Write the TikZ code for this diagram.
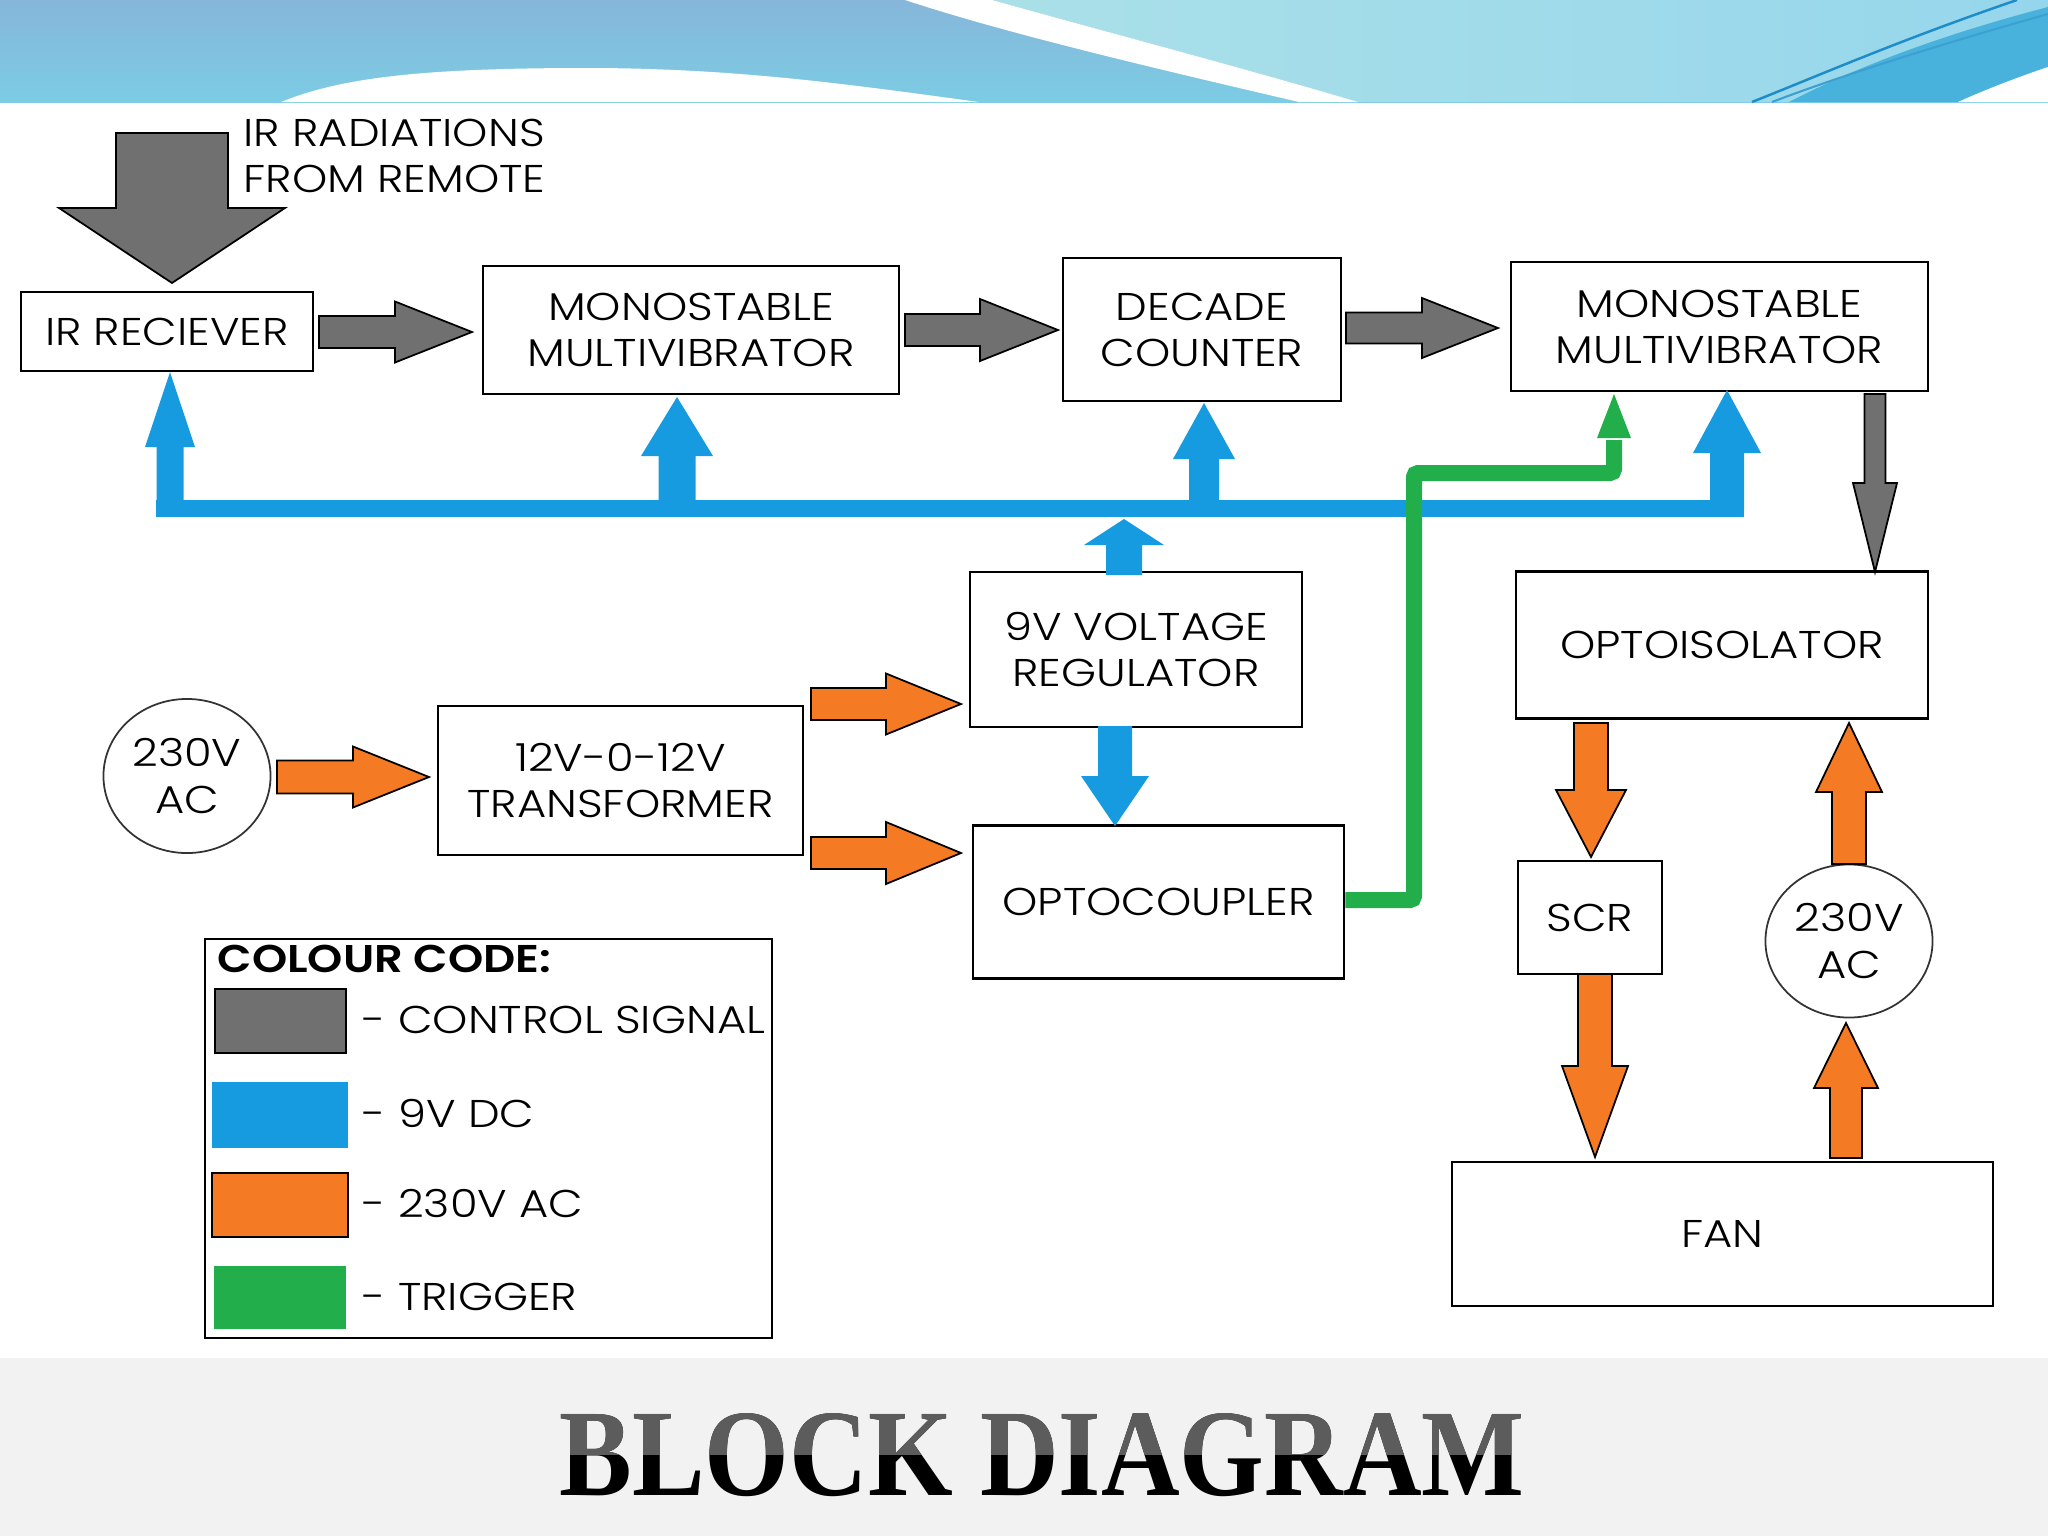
\documentclass[tikz,border=0pt]{standalone}
\usepackage{fontspec}
\setmainfont{Poppins}[FakeStretch=1.16, UprightFont=* Light, BoldFont=* SemiBold]
\newfontfamily\ttlfont{Liberation Serif}
\usepackage{graphicx}
\usetikzlibrary{shapes.geometric}
\definecolor{ctrl}{RGB}{112,112,112}
\definecolor{dcblue}{RGB}{22,155,225}
\definecolor{acorange}{RGB}{244,123,36}
\definecolor{trig}{RGB}{34,174,74}
\definecolor{bandL1}{RGB}{134,182,218}
\definecolor{bandL2}{RGB}{124,204,228}
\definecolor{bandR1}{RGB}{170,224,232}
\definecolor{bandR2}{RGB}{150,214,236}
\definecolor{bandB}{RGB}{72,178,220}
\newcommand\lblf{\fontsize{11}{13.1}\selectfont}
\newcommand\harr[7]{\draw[#1] (#2,{#5-#6}) -- (#3,{#5-#6}) -- (#3,{#5-#7}) -- (#4,#5) -- (#3,{#5+#7}) -- (#3,{#5+#6}) -- (#2,{#5+#6}) -- cycle;}
\newcommand\varr[7]{\draw[#1] ({#2-#6},#3) -- ({#2-#6},#4) -- ({#2-#7},#4) -- (#2,#5) -- ({#2+#7},#4) -- ({#2+#6},#4) -- ({#2+#6},#3) -- cycle;}
\tikzset{
  blockbox/.style={draw=black, line width=0.7pt, fill=white, align=center, font=\lblf, inner sep=0pt},
  acsrc/.style={ellipse, draw=black!80, line width=0.5pt, fill=white, align=center, font=\lblf, inner sep=0pt},
  gar/.style={fill=ctrl, draw=black, line width=0.5pt},
  oar/.style={fill=acorange, draw=black, line width=0.5pt},
  bar/.style={fill=dcblue, draw=none},
  lgtext/.style={anchor=base west, font=\lblf, inner sep=0pt},
}
\begin{document}
\begin{tikzpicture}[x=0.01cm,y=-0.01cm]
\useasboundingbox (0,0) rectangle (2048,1536);
% ---------- banner ----------
\shade[top color=bandL1, bottom color=bandL2] (0,0) rectangle (2048,102);
\shade[left color=bandR1, right color=bandR2] (992,0) .. controls (1110,33) and (1240,67) .. (1358,102) -- (2048,102) -- (2048,0) -- cycle;
\fill[white] (905,0) .. controls (1005,33) and (1149,67) .. (1299,102) -- (1358,102) .. controls (1240,67) and (1110,33) .. (992,0) -- cycle;
\fill[white] (281,102) .. controls (340,78) and (420,68) .. (587,68) .. controls (740,68) and (860,86) .. (979,102) -- cycle;
\fill[bandB] (1789,102) .. controls (1870,60) and (1960,30) .. (2048,7) -- (2048,67) .. controls (2010,80) and (1985,90) .. (1958,102) -- cycle;
\fill[white] (1958,102) .. controls (1985,90) and (2010,80) .. (2048,67) -- (2048,102) -- cycle;
\draw[color={rgb,255:red,30;green,140;blue,200}, line width=0.7pt] (2017,0) .. controls (1900,40) and (1820,75) .. (1752,102);
\draw[color={rgb,255:red,60;green,160;blue,210}, line width=0.6pt] (2048,14) .. controls (1920,50) and (1830,80) .. (1772,102);
% ---------- bottom band ----------
\fill[black!5] (0,1358) rectangle (2048,1536);
% ---------- nodes ----------
\node[blockbox, minimum width=2.92cm, minimum height=0.79cm] (ir) at (167,331.5) {IR RECIEVER};
\node[blockbox, minimum width=4.16cm, minimum height=1.28cm] (mono1) at (691,330) {MONOSTABLE\\MULTIVIBRATOR};
\node[blockbox, minimum width=2.78cm, minimum height=1.43cm] (dec) at (1202,329.5) {DECADE\\COUNTER};
\node[blockbox, minimum width=4.17cm, minimum height=1.29cm] (mono2) at (1719.5,326.5) {MONOSTABLE\\MULTIVIBRATOR};
\node[blockbox, minimum width=3.32cm, minimum height=1.55cm] (reg) at (1136,649.5) {9V VOLTAGE\\REGULATOR};
\node[blockbox, minimum width=3.71cm, minimum height=1.53cm] (opto) at (1158.5,902) {OPTOCOUPLER};
\node[blockbox, minimum width=3.65cm, minimum height=1.49cm] (trans) at (620.5,780.5) {12V-0-12V\\TRANSFORMER};
\node[acsrc, minimum width=1.67cm, minimum height=1.54cm] (acl) at (187,776) {230V\\AC};
\node[blockbox, minimum width=4.12cm, minimum height=1.47cm] (iso) at (1722,645) {OPTOISOLATOR};
\node[blockbox, minimum width=1.44cm, minimum height=1.13cm] (scr) at (1590,917.5) {SCR};
\node[acsrc, minimum width=1.67cm, minimum height=1.53cm] (acr) at (1849,941) {230V\\AC};
\node[blockbox, minimum width=5.41cm, minimum height=1.44cm] (fan) at (1722.5,1234) {FAN};
\node[anchor=west, align=left, font=\lblf, inner sep=0pt] (irtxt) at (243,156) {IR RADIATIONS\\FROM REMOTE};
% ---------- grey control arrows ----------
\varr{gar}{172}{133}{208}{283}{56}{113}
\harr{gar}{319}{395}{472}{332}{16}{30.5}
\harr{gar}{905}{980}{1058}{330}{16}{31}
\harr{gar}{1346}{1422}{1498}{328}{15.5}{30}
\varr{gar}{1875}{394}{483}{572}{10.5}{22}
% ---------- blue 9V DC ----------
\fill[dcblue] (156,500) rectangle (1744,517);
\varr{bar}{170}{510}{447}{372}{13.5}{25}
\varr{bar}{677}{510}{456}{397}{18.5}{36}
\varr{bar}{1204}{510}{459}{403}{15}{31}
\varr{bar}{1727}{510}{453}{390}{17}{34}
\varr{bar}{1124}{575}{545}{519}{18}{40}
\varr{bar}{1115}{726}{776}{826}{17}{34}
% ---------- orange 230V AC ----------
\harr{oar}{277}{353}{429}{777}{16.5}{30.5}
\harr{oar}{811}{886}{961}{704}{16}{30.5}
\harr{oar}{811}{886}{961}{853}{16}{31}
\varr{oar}{1591}{723}{790}{857}{17}{35}
\varr{oar}{1595}{974}{1066}{1157}{17}{33}
\varr{oar}{1846}{1158}{1088}{1023}{16}{32}
\varr{oar}{1849}{864}{792}{723}{17}{33}
% ---------- green trigger ----------
\draw[trig, line width=0.16cm, rounded corners=0.04cm] (opto.east) ++(0,-2) -| (1414,473) -| (1614,440);
\fill[trig] (1597,438) -- (1631,438) -- (1614,394) -- cycle;
% ---------- legend ----------
\draw[line width=0.7pt] (205,939) rectangle (772,1338);
\node[lgtext, font=\lblf\bfseries] (lgt) at (217,972) {COLOUR CODE:};
\filldraw[fill=ctrl, draw=black, line width=0.6pt] (215,989) rectangle (346,1053);
\fill[dcblue] (212,1082) rectangle (348,1148);
\filldraw[fill=acorange, draw=black, line width=0.6pt] (212,1173) rectangle (348,1237);
\fill[trig] (214,1266) rectangle (346,1329);
\node[lgtext] (l1) at (362,1033) {- CONTROL SIGNAL};
\node[lgtext] (l2) at (362,1127) {- 9V DC};
\node[lgtext] (l3) at (362,1217) {- 230V AC};
\node[lgtext] (l4) at (362,1310) {- TRIGGER};
% ---------- title ----------
\node[anchor=base, inner sep=0pt] (ttl) at (1042,1495) {\ttlfont\bfseries\fontsize{35.2}{40}\selectfont\scalebox{0.88}[1]{BLOCK DIAGRAM}};
\fill[black!64, blend mode=lighten] (540,1400) rectangle (1545,1455);
\end{tikzpicture}
\end{document}
